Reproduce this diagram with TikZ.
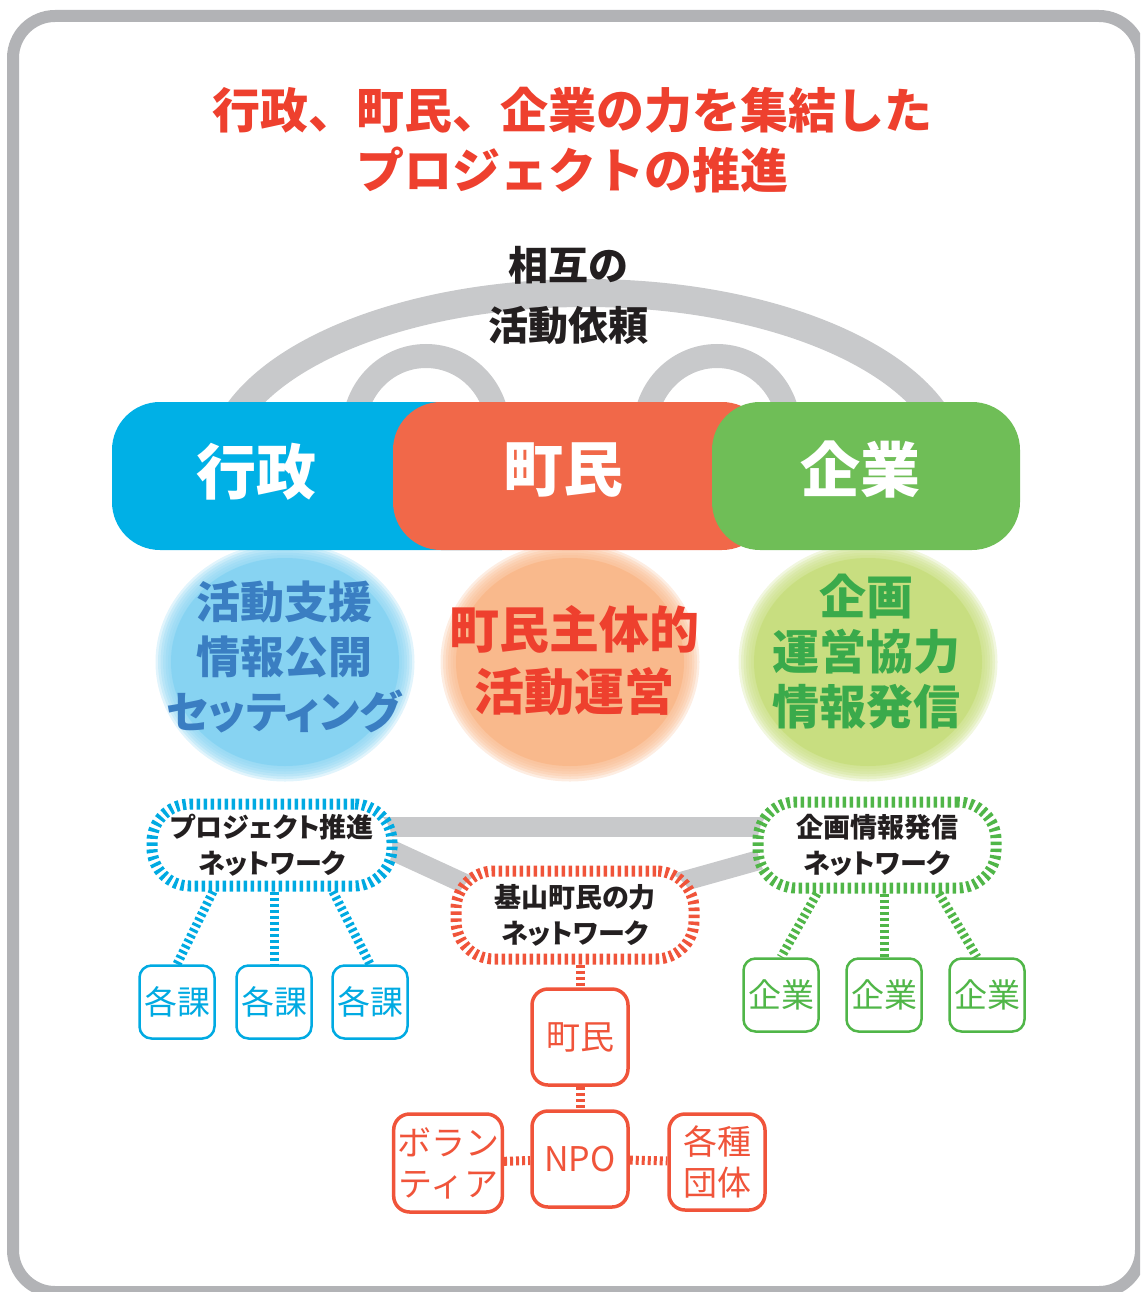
\documentclass[tikz,border=0pt]{standalone}
\usepackage{fontspec}
\setmainfont{Noto Sans CJK JP}
\newfontfamily\jpp{Noto Sans CJK JP}[RawFeature=+palt]
\usetikzlibrary{positioning}
\pgfdeclarelayer{bg}
\pgfsetlayers{bg,main}
\definecolor{framegray}{RGB}{178,179,182}
\definecolor{arcgray}{RGB}{200,201,203}
\definecolor{gblue}{RGB}{0,176,230}
\definecolor{gred}{RGB}{241,104,73}
\definecolor{ggreen}{RGB}{111,190,87}
\definecolor{lblue}{RGB}{135,211,242}
\definecolor{lorange}{RGB}{249,185,140}
\definecolor{lgreen}{RGB}{200,222,128}
\definecolor{tblue}{RGB}{58,126,194}
\definecolor{tred}{RGB}{238,64,46}
\definecolor{tgreen}{RGB}{58,170,75}
\definecolor{nblue}{RGB}{0,170,226}
\definecolor{nred}{RGB}{240,84,58}
\definecolor{ngreen}{RGB}{80,182,72}
\definecolor{ink}{RGB}{35,31,32}
\begin{document}
\begin{tikzpicture}[x=1pt,y=-1pt,
    bigbox/.style={shape=rectangle,rounded corners=48,minimum width=#1,minimum height=148,inner sep=0},
    boxtext/.style={text=white,font=\fontsize{60}{60}\selectfont\bfseries},
    net/.style={shape=rectangle,rounded corners=38,fill=white,line width=11,dash pattern=on 3.5 off 3.5,
        minimum width=238,minimum height=82,align=center,text=ink,font=\fontsize{27}{36}\selectfont\bfseries\jpp},
    link/.style={line width=9,dash pattern=on 3 off 3},
    sbox/.style={shape=rectangle,rounded corners=12,line width=2.5,fill=white,minimum width=75,minimum height=73,
        font=\fontsize{33}{33}\selectfont},
    rbox/.style={shape=rectangle,rounded corners=16,line width=3.5,draw=nred,fill=white,text=nred,
        minimum width=96,minimum height=96,align=center,font=\fontsize{34}{41}\selectfont},
    grayline/.style={arcgray,line width=20}]
\useasboundingbox (0,0) rectangle (1140,1292);
\clip (0,0) rectangle (1140,1292);
\draw[framegray,line width=12,rounded corners=42] (13,16) rectangle (1141,1292);

% title
\node[align=center,text=tred,font=\fontsize{48}{60}\selectfont\bfseries] (20) at (572,140) {行政、町民、企業の力を集結した\\プロジェクトの推進};

% arcs
\begin{scope}
\clip (0,0) rectangle (1140,440);
\draw[arcgray,line width=28] (586,470) ellipse [x radius=368, y radius=177];
\draw[arcgray,line width=24] (426,430) ellipse [x radius=72, y radius=74];
\draw[arcgray,line width=24] (717,430) ellipse [x radius=72, y radius=74];
\end{scope}
\node[align=center,text=ink,font=\fontsize{40}{60}\selectfont\bfseries] (21) at (568,295) {相互の\\活動依頼};

% soft ellipses
\foreach \cx/\col in {285/lblue,570/lorange,868/lgreen} {
    \fill[\col] (\cx,662) ellipse [x radius=114, y radius=104];
    \foreach \d in {0,...,7}
        \fill[\col,opacity=0.25] (\cx,662) ellipse [x radius=112+2.5*\d, y radius=102+2.5*\d];
}
\node[align=center,text=tblue,font=\fontsize{44}{55}\selectfont\bfseries\jpp] (4) at (284,657) {活動支援\\情報公開\\セッティング};
\node[align=center,text=tred,font=\fontsize{50}{62}\selectfont\bfseries] (5) at (574,661) {町民主体的\\活動運営};
\node[align=center,text=tgreen,font=\fontsize{47}{55}\selectfont\bfseries] (6) at (866,652) {企画\\運営協力\\情報発信};

% main boxes
\node[bigbox=438,fill=gblue] (1) at (331,476) {};
\node[boxtext] (1a) at (256,472) {行政};
\node[bigbox=377,fill=gred] (2) at (581.5,476) {};
\node[boxtext] (2a) at (563,470) {町民};
\node[bigbox=308,fill=ggreen] (3) at (866,476) {};
\node[boxtext] (3a) at (860,470) {企業};

% networks
\node[net,draw=nblue,minimum width=240] (7) at (272,845) {プロジェクト推進\\ネットワーク};
\node[net,draw=nred,minimum height=88] (8) at (575,915) {基山町民の力\\ネットワーク};
\node[net,draw=ngreen,minimum height=86] (9) at (877,845) {企画情報発信\\ネットワーク};

\node[sbox,draw=nblue,text=nblue] (10) at (177,1002) {各課};
\node[sbox,draw=nblue,text=nblue] (11) at (274,1002) {各課};
\node[sbox,draw=nblue,text=nblue] (12) at (370,1002) {各課};
\node[sbox,draw=ngreen,text=ngreen] (13) at (781,995) {企業};
\node[sbox,draw=ngreen,text=ngreen] (14) at (884,995) {企業};
\node[sbox,draw=ngreen,text=ngreen] (15) at (987,995) {企業};

\node[rbox] (16) at (580,1037) {町民};
\node[rbox] (17) at (580,1159) {NPO};
\node[rbox,minimum width=100,minimum height=98] (18) at (448,1163) {ボラン\\ティア};
\node[rbox] (19) at (717,1162) {各種\\団体};

\begin{pgfonlayer}{bg}
\path ([xshift=100,yshift=18]7.center) edge[grayline] ([xshift=-100,yshift=18]9.center);
\path ([xshift=100,yshift=4]7.center) edge[grayline] ([xshift=-90,yshift=22]8.center);
\path ([xshift=95,yshift=30]8.center) edge[grayline] ([xshift=-100,yshift=-10]9.center);
\path ([xshift=-59]7.south) edge[link,nblue] (10.north);
\path (7.south -| 11) edge[link,nblue] (11.north);
\path ([xshift=61]7.south) edge[link,nblue] (12.north);
\path ([xshift=-60]9.south) edge[link,ngreen] (13.north);
\path (9.south -| 14) edge[link,ngreen] (14.north);
\path ([xshift=62]9.south) edge[link,ngreen] ([xshift=-10]15.north);
\path (8.south -| 16) edge[link,nred] (16.north);
\path (16) edge[link,nred] (17);
\path (18) edge[link,nred] (17);
\path (17) edge[link,nred] (19);
\end{pgfonlayer}
\end{tikzpicture}
\end{document}
